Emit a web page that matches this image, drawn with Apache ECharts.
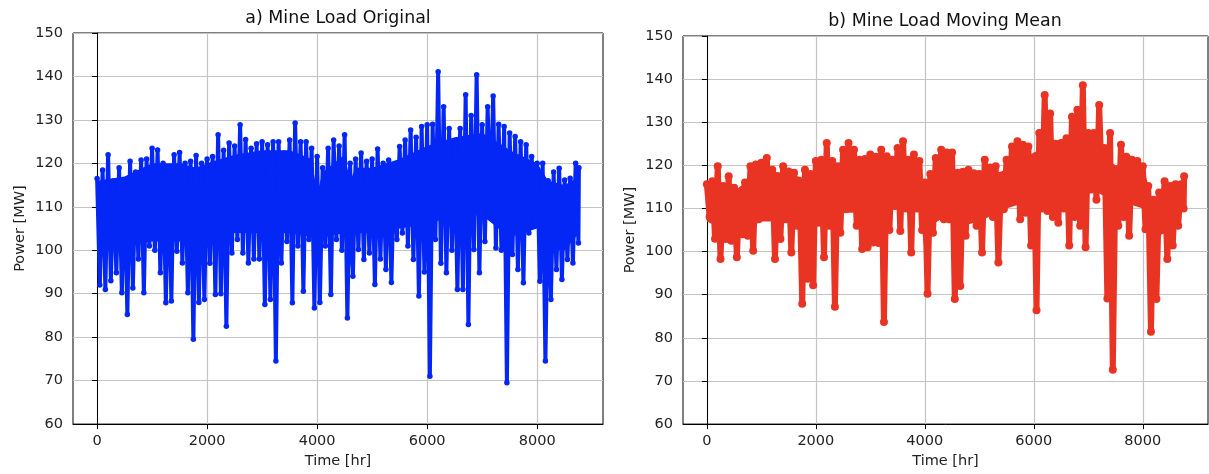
<!DOCTYPE html>
<html>
<head>
<meta charset="utf-8">
<title>Mine Load</title>
<script src="https://cdn.jsdelivr.net/npm/echarts@6/dist/echarts.min.js"></script>
<style>
  html, body { margin: 0; padding: 0; background: #fff; }
  #chart { width: 1209px; height: 474px; }
</style>
</head>
<body>
<div id="chart"></div>
<script>
// load every 100 hr:
// hi = top of the trace at hour k*100, lo = deepest dip inside [k*100, k*100+100]
const originalHi = [
  116.5, 118.5, 122, 116, 119, 116, 120.5, 118, 120.8, 121,
  123.5, 123.1, 120, 119, 122, 122.5, 120, 120.5, 121.8, 120,
  121, 121.6, 126.6, 123, 124.7, 124, 128.9, 125.5, 123.5, 124.5,
  125, 124.3, 125, 125, 122.4, 125.4, 129.3, 125, 125, 123.5,
  121.6, 119, 123.5, 125.4, 124, 126.6, 120, 121, 122.4, 120.5,
  121, 123.3, 120, 120.8, 119, 123.9, 125.4, 127.7, 126, 128.5,
  128.9, 129, 141.1, 133, 128, 125, 128, 135.8, 131, 140.4,
  128.9, 133, 135.5, 129, 128.5, 127, 126.2, 125, 124.3, 121.6,
  120, 120, 116, 118, 118.9, 116.2, 116.6, 120
]
const originalLo = [
  92, 91, 93, 94.8, 90.2, 85.2, 91.3, 98, 90.2, 101,
  100, 94.8, 87.9, 88.3, 99.8, 97.1, 90.2, 79.5, 88, 88.7,
  97, 89.8, 90, 82.5, 99.4, 102.5, 99.4, 97.1, 98, 98,
  87.5, 88.7, 74.5, 97.1, 102, 87.9, 101, 90.6, 102.5, 86.7,
  88, 101, 89.8, 102.5, 100, 84.4, 94, 100.2, 97.9, 99.4,
  92.1, 98, 95.6, 92.6, 102.5, 104, 101, 97.9, 89.5, 95,
  71, 102.5, 97, 94.8, 100, 91, 91, 82.9, 100.2, 94.8,
  102, 109, 100.5, 100, 69.5, 99, 95.6, 92.5, 104, 106.3,
  92.9, 74.5, 88.7, 95.6, 93.3, 97.9, 97.1, 101.7
]
const originalEnd = 119

const meanHi = [
  115.6, 116.3, 119.8, 115.2, 117.5, 114.8, 112.9, 116, 119.8, 120.2,
  120.6, 121.7, 119, 117.5, 119.8, 118.6, 118.3, 116, 119, 118,
  121, 121.3, 125.2, 121, 119.8, 123.6, 125.2, 123.6, 121.3, 121.5,
  122.5, 122, 123.6, 122.1, 121.3, 124, 125.6, 121.3, 122.5, 121,
  116, 118, 121.7, 123.6, 123, 123, 118.3, 118.5, 119, 118.2,
  118, 121.3, 119.5, 119.8, 117, 121.3, 124.4, 125.6, 124.8, 124.4,
  121.5, 127.5, 136.3, 132, 125, 125.2, 126.3, 131.3, 132.9, 138.6,
  127.5, 127.5, 134, 124, 127.5, 119, 124.8, 122, 121.3, 121,
  119.8, 115.2, 112, 113.7, 116.3, 115.2, 115.6, 115.6
]
const meanLo = [
  108, 103, 98.3, 102.9, 102.5, 98.7, 104, 103.7, 100.2, 107.5,
  109.8, 108, 98.3, 102.9, 107.5, 99.8, 106, 87.9, 93.7, 92.2,
  106.7, 98.7, 106, 87.2, 104.4, 109.8, 112.1, 106, 100.6, 101,
  102.1, 102, 83.7, 105, 110.6, 104.8, 110, 99.8, 110, 105,
  90.2, 104.4, 108.3, 107.5, 107.5, 89, 92, 103.7, 108.3, 106,
  99.8, 109, 108, 97.5, 109.8, 112.1, 113.7, 107.5, 109, 101.4,
  86.4, 110, 109.4, 108, 106.7, 110, 101.4, 108, 106, 101,
  114.4, 112, 115.2, 89.1, 72.6, 106, 108, 103.7, 112.1, 112.5,
  105.2, 81.4, 89, 105, 98.3, 101.4, 106, 110
]
const meanEnd = 117.5

// the solid part of each trace (where hourly points overlap completely)
const coreHours = [0, 500, 1000, 1500, 1800, 2000, 2500, 3000, 3500, 3900,
  4000, 4100, 4500, 4600, 4700, 5000, 5500, 6000, 6500, 7000,
  7400, 7500, 8000, 8200, 8500, 8759]
const originalCoreLo = [102, 101, 102, 102, 99, 101, 104, 104, 104, 103,
  96, 103, 104, 96, 104, 104, 105, 106, 108, 108,
  104, 103, 105, 100, 100, 104]
const originalCoreHi = [116, 117, 120, 120, 119, 120, 122, 123, 123, 121,
  113, 118, 122, 116, 119, 119, 121, 124, 126, 127,
  124, 123, 120, 116, 115, 117]
const meanCoreLo = [107, 104, 107, 107, 104, 106, 109, 109, 110, 110,
  100, 106, 109, 100, 106, 107, 110, 112, 114, 115,
  112, 112, 110, 103, 105, 110]
const meanCoreHi = [115, 114, 119, 118, 117, 118, 121, 122, 122, 121,
  113, 117, 121, 115, 117, 117, 119, 123, 126, 127,
  121, 120, 120, 111, 113, 116]

const lastHour = 8759
const xTicks = [0, 2000, 4000, 6000, 8000]

const FONT = 'DejaVu Sans'
const TEXT = '#222'
const BLUE = '#0427f6'
const RED = '#e93424'

// trace goes hi -> lo -> hi ... so the band gets filled like the hourly data
const toPoints = (hi, lo, end) => {
  const pts = []
  hi.forEach((v, k) => {
    pts.push([k * 100, v])
    pts.push([k * 100 + 50, lo[k]])
  })
  pts.push([lastHour, end])
  return pts
}

const xAxisFor = (gridIndex) => ({
  type: 'value',
  gridIndex,
  min: -438,
  max: 9197,
  name: 'Time [hr]',
  nameLocation: 'middle',
  nameGap: 29,
  nameTextStyle: { fontSize: 14.5, color: TEXT, fontFamily: FONT },
  axisLine: { show: true, lineStyle: { color: '#000', width: 1 } },
  axisTick: { show: true, length: 5, customValues: xTicks, lineStyle: { color: '#000' } },
  axisLabel: {
    customValues: xTicks,
    margin: 10,
    fontSize: 14.5,
    color: TEXT,
    fontFamily: FONT,
    formatter: (v) => String(v),
  },
  splitLine: { show: true, lineStyle: { color: '#c4c4c4', width: 1.2 } },
})

const yAxisFor = (gridIndex) => ({
  type: 'value',
  gridIndex,
  min: 60,
  max: 150,
  interval: 10,
  name: 'Power [MW]',
  nameLocation: 'middle',
  nameGap: 45,
  nameRotate: 90,
  nameTextStyle: { fontSize: 14.5, color: TEXT, fontFamily: FONT },
  axisLine: { show: true, lineStyle: { color: '#000', width: 1 } },
  axisTick: { show: true, length: 5, lineStyle: { color: '#000' } },
  axisLabel: { margin: 10, fontSize: 14.5, color: TEXT, fontFamily: FONT },
  splitLine: { show: true, lineStyle: { color: '#c4c4c4', width: 1.2 } },
})

const traceFor = (idx, data, color, width, dot) => ({
  type: 'line',
  xAxisIndex: idx,
  yAxisIndex: idx,
  data,
  z: 3,
  symbol: 'circle',
  symbolSize: dot,
  showSymbol: true,
  showAllSymbol: true,
  silent: true,
  itemStyle: { color },
  lineStyle: { color, width, join: 'round', cap: 'round' },
  emphasis: { disabled: true },
})

// solid band between core lo and core hi, drawn as one polygon
const coreFor = (idx, lo, hi, color) => ({
  type: 'custom',
  xAxisIndex: idx,
  yAxisIndex: idx,
  silent: true,
  z: 2,
  data: coreHours.map((h, i) => [h, lo[i], hi[i]]),
  encode: { x: 0, y: [1, 2] },
  renderItem: (params, api) => {
    if (params.dataIndex !== 0) return null
    const top = coreHours.map((h, i) => api.coord([h, hi[i]]))
    const bottom = coreHours.map((h, i) => api.coord([h, lo[i]])).reverse()
    return {
      type: 'polygon',
      shape: { points: top.concat(bottom) },
      style: { fill: color },
    }
  },
})

const titleText = (x, y, text) => ({
  type: 'text',
  x,
  y,
  style: {
    text,
    align: 'center',
    verticalAlign: 'middle',
    fontSize: 17.4,
    fontFamily: FONT,
    fill: '#111',
  },
})

const chart = echarts.init(document.getElementById('chart'), null, { renderer: 'canvas' })

chart.setOption({
  animation: false,
  backgroundColor: '#fff',
  grid: [
    { left: 73, top: 33, width: 530, height: 394, show: true, borderColor: '#000', borderWidth: 1 },
    { left: 683, top: 36, width: 525, height: 390, show: true, borderColor: '#000', borderWidth: 1 },
  ],
  xAxis: [xAxisFor(0), xAxisFor(1)],
  yAxis: [yAxisFor(0), yAxisFor(1)],
  graphic: [
    titleText(338, 18, 'a) Mine Load Original'),
    titleText(945, 21, 'b) Mine Load Moving Mean'),
  ],
  series: [
    coreFor(0, originalCoreLo, originalCoreHi, BLUE),
    traceFor(0, toPoints(originalHi, originalLo, originalEnd), BLUE, 4, 5.5),
    coreFor(1, meanCoreLo, meanCoreHi, RED),
    traceFor(1, toPoints(meanHi, meanLo, meanEnd), RED, 6, 8),
  ],
})
</script>
</body>
</html>
